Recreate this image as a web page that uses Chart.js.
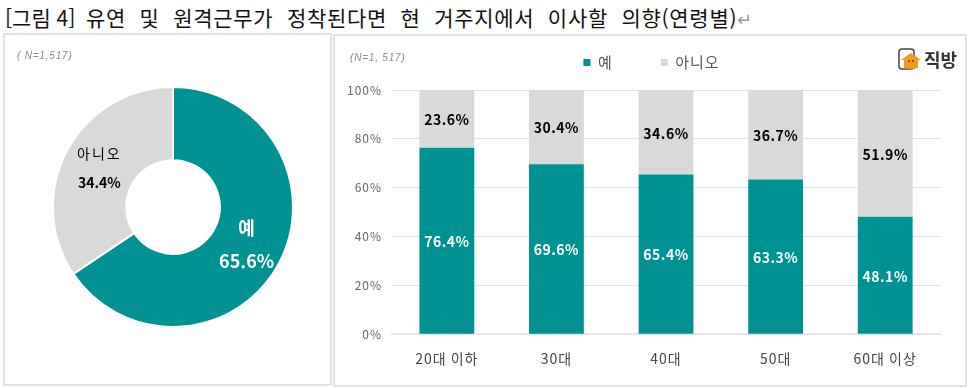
<!DOCTYPE html>
<html lang="ko">
<head>
<meta charset="utf-8">
<title>그림 4</title>
<script src="https://cdn.jsdelivr.net/npm/chart.js@4/dist/chart.umd.min.js"></script>
<style>
    html, body { margin: 0; padding: 0; background: #fff; }
    body { width: 970px; height: 388px; position: relative; overflow: hidden; font-family: "Noto Sans CJK KR", sans-serif; }
    #title { position: absolute; left: 5px; top: 3px; font-size: 21px; line-height: 28px; color: #111; white-space: nowrap; word-spacing: 7px; letter-spacing: 0.7px; }
    #title .fig { display: inline-block; width: 81px; word-spacing: 0; letter-spacing: 0; }
    #title .mark { color: #999; font-size: 18px; }
    .panel { position: absolute; background: #fff; border: 2px solid #e2e2e2; box-sizing: border-box; }
    #leftPanel { left: 3px; top: 33px; width: 329px; height: 353px; }
    #rightPanel { left: 333px; top: 34px; width: 634px; height: 353px; }
    .panel canvas { position: absolute; left: 0; top: 0; }
    .sample { position: absolute; font-family: "Liberation Sans", sans-serif; font-style: italic; font-size: 10px; color: #8a8a8a; letter-spacing: 0.8px; }
    #leftSample { left: 12px; top: 15px; }
    #rightSample { left: 15px; top: 16px; }
    #logo { position: absolute; left: 563px; top: 10px; display: flex; align-items: center; font-weight: 700; font-size: 18px; color: #333; }
    #logo svg { margin-right: 2px; }
</style>
</head>
<body>
<div id="title"><span class="fig">[그림 4]</span>유연 및 원격근무가 정착된다면 현 거주지에서 이사할 의향(연령별)<span class="mark">↵</span></div>
<div class="panel" id="leftPanel">
    <canvas id="donutChart" width="325" height="349"></canvas>
    <div class="sample" id="leftSample">( N=1,517)</div>
</div>
<div class="panel" id="rightPanel">
    <canvas id="barChart" width="630" height="349"></canvas>
    <div class="sample" id="rightSample">(N=1, 517)</div>
    <div id="logo">
        <svg width="24" height="22" viewBox="0 0 24 22">
            <rect x="1" y="1" width="15" height="20" rx="3" fill="#fff" stroke="#444" stroke-width="1.5"/>
            <path d="M3 12 L13 5 L23 12 L20 12 L20 20 Q13 22 6 20 L6 12 Z" fill="#f09a1e"/>
            <circle cx="11" cy="13" r="1" fill="#444"/>
            <circle cx="15" cy="13" r="1" fill="#444"/>
        </svg>직방
    </div>
</div>

<script>
const answerLabels = ["예", "아니오"];
const overallValues = [65.6, 34.4];

const ageLabels = ["20대 이하", "30대", "40대", "50대", "60대 이상"];
const yesValues = [76.4, 69.6, 65.4, 63.3, 48.1];
const noValues = [23.6, 30.4, 34.6, 36.7, 51.9];

const TEAL = "#009292";
const GRAY = "#d9d9d9";
const FONT = '"Noto Sans CJK KR", sans-serif';

// the original legend floats well above the plot, so move it after layout
const legendLiftPlugin = {
    id: "legendLift",
    afterLayout(chart) {
        chart.legend.top -= 10;
        chart.legend.bottom -= 10;
        chart.legend.left += 9;
        chart.legend.right += 9;
    },
};

// axis text in the original is spaced out a little
const axisSpacingPlugin = {
    id: "axisSpacing",
    beforeDraw(chart) {
        chart.ctx.letterSpacing = "1px";
    },
    beforeDatasetsDraw(chart) {
        chart.ctx.letterSpacing = "0px";
    },
};

// writes the percentage labels on top of the stacked bars
const barLabelPlugin = {
    id: "barLabels",
    afterDatasetsDraw(chart) {
        const { ctx } = chart;
        ctx.save();
        ctx.textAlign = "center";
        ctx.textBaseline = "middle";
        ctx.letterSpacing = "0.5px";
        ctx.font = `700 14px ${FONT}`;
        chart.getDatasetMeta(0).data.forEach((bar, index) => {
            ctx.fillStyle = "#fff";
            ctx.fillText(`${yesValues[index].toFixed(1)}%`, bar.x, (bar.y + bar.base) / 2 + 1);
        });
        chart.getDatasetMeta(1).data.forEach((bar, index) => {
            ctx.fillStyle = "#000";
            ctx.fillText(`${noValues[index].toFixed(1)}%`, bar.x, (bar.y + bar.base) / 2 + 1);
        });
        ctx.restore();
    },
};

// writes category name and share inside each donut slice
const donutLabelPlugin = {
    id: "donutLabels",
    afterDatasetsDraw(chart) {
        const { ctx } = chart;
        const slices = chart.getDatasetMeta(0).data;
        const yes = slices[0].tooltipPosition();
        const no = slices[1].tooltipPosition();
        ctx.save();
        ctx.textAlign = "center";
        ctx.textBaseline = "middle";
        ctx.fillStyle = "#fff";
        ctx.font = `700 18px ${FONT}`;
        ctx.fillText(answerLabels[0], yes.x, yes.y - 18);
        ctx.fillText(`${overallValues[0]}%`, yes.x, yes.y + 15);
        ctx.fillStyle = "#000";
        ctx.letterSpacing = "2px";
        ctx.font = `400 14px ${FONT}`;
        ctx.fillText(answerLabels[1], no.x, no.y - 14);
        ctx.letterSpacing = "0px";
        ctx.font = `700 14px ${FONT}`;
        ctx.fillText(`${overallValues[1]}%`, no.x, no.y + 15);
        ctx.restore();
    },
};

new Chart(document.getElementById("donutChart"), {
    type: "doughnut",
    data: {
        labels: answerLabels,
        datasets: [
            {
                data: overallValues,
                backgroundColor: [TEAL, GRAY],
                borderColor: "#fff",
                borderWidth: 2,
            },
        ],
    },
    options: {
        responsive: false,
        animation: false,
        cutout: "39%",
        layout: {
            padding: { left: 47, right: 36, top: 51, bottom: 56 },
        },
        plugins: {
            legend: { display: false },
            tooltip: { enabled: false },
        },
    },
    plugins: [donutLabelPlugin],
});

new Chart(document.getElementById("barChart"), {
    type: "bar",
    data: {
        labels: ageLabels,
        datasets: [
            {
                label: answerLabels[0],
                data: yesValues,
                backgroundColor: TEAL,
                barPercentage: 1,
                categoryPercentage: 0.5,
            },
            {
                label: answerLabels[1],
                data: noValues,
                backgroundColor: GRAY,
                barPercentage: 1,
                categoryPercentage: 0.5,
            },
        ],
    },
    options: {
        responsive: false,
        animation: false,
        layout: {
            padding: { left: 6, right: 25, top: -19, bottom: 10 },
        },
        plugins: {
            legend: {
                position: "top",
                labels: {
                    boxWidth: 7,
                    boxHeight: 7,
                    padding: 48,
                    color: "#555",
                    font: { family: FONT, size: 15 },
                },
            },
            tooltip: { enabled: false },
        },
        scales: {
            x: {
                stacked: true,
                grid: { display: false },
                border: { color: "#e6e6e6", width: 2 },
                ticks: { color: "#444", padding: 8, font: { family: FONT, size: 14 } },
            },
            y: {
                stacked: true,
                min: 0,
                max: 100,
                grid: {
                    color: "#e2e2e2",
                    drawTicks: false,
                },
                border: { display: false },
                ticks: {
                    stepSize: 20,
                    padding: 10,
                    color: "#666",
                    font: { family: FONT, size: 12 },
                    callback: (value) => `${value}%`,
                },
            },
        },
    },
    plugins: [legendLiftPlugin, axisSpacingPlugin, barLabelPlugin],
});
</script>
</body>
</html>
